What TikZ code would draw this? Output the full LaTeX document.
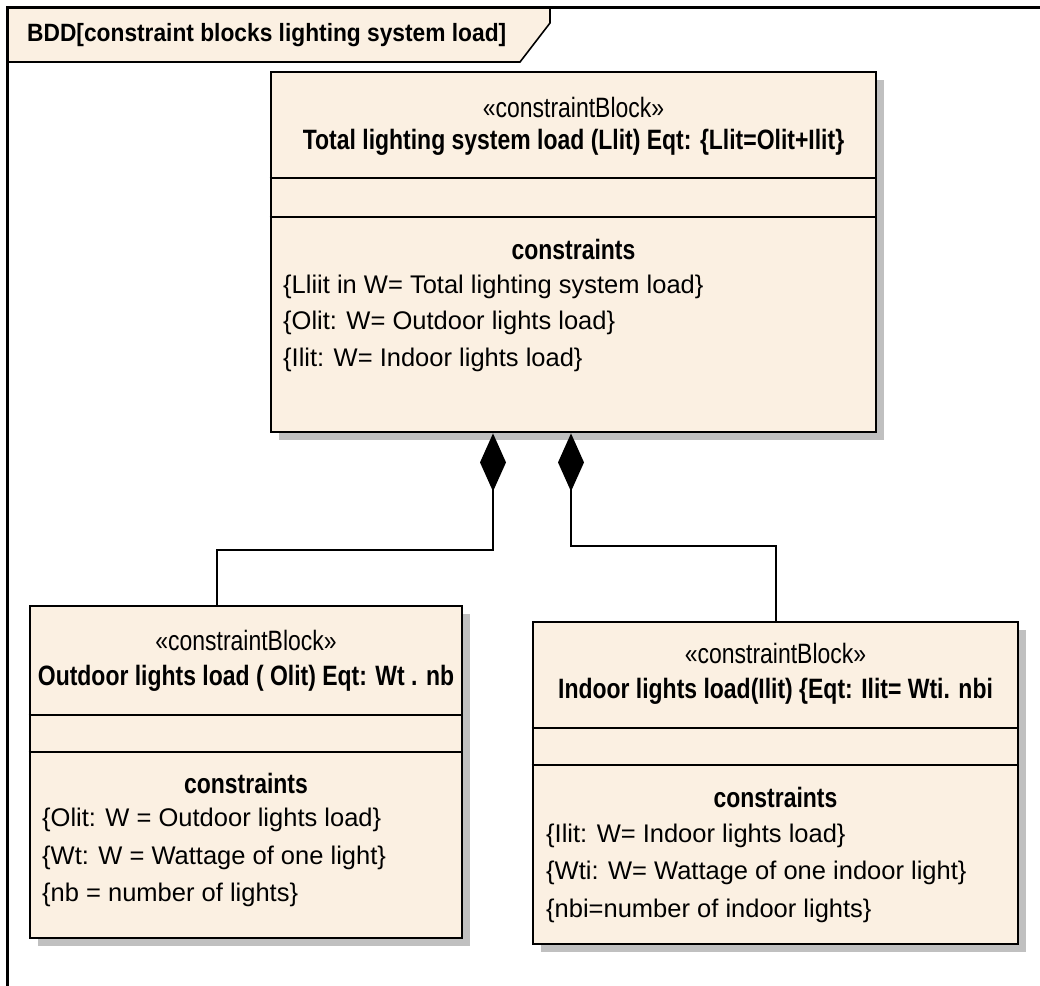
\documentclass[tikz,border=0pt]{standalone}
\usepackage{fontspec}
\setmainfont{Liberation Sans}
\newfontfamily\bdnarrow[FakeStretch=0.82]{Liberation Sans}
\newfontfamily\bdtitlefont[FakeStretch=0.91]{Liberation Sans}
\usetikzlibrary{arrows.meta, shadows, positioning}
\definecolor{bdfill}{RGB}{251,240,226}
\definecolor{bdshadow}{RGB}{192,192,192}
\tikzset{
  bd frame/.style={draw=black, line width=2.2pt},
  bd tab/.style={draw=black, fill=bdfill, line width=1.6pt},
  bd block/.style={draw=black, fill=bdfill, line width=2.8pt, inner sep=0pt,
    drop shadow={shadow xshift=8pt, shadow yshift=-8pt, fill=bdshadow, opacity=1}},
  bd div/.style={draw=black, line width=2.6pt},
  bd title/.style={font=\bdtitlefont\bfseries\fontsize{25}{27}\selectfont, inner sep=0pt, anchor=west},
  bd stereo/.style={font=\bdnarrow\fontsize{28}{30}\selectfont, inner sep=0pt},
  bd name/.style={font=\bdnarrow\bfseries\fontsize{28}{30}\selectfont, inner sep=0pt},
  bd item/.style={font=\fontsize{25.5}{28}\selectfont, inner sep=0pt, anchor=west},
  bd comp/.style={draw=black, line width=2.6pt, {Diamond[length=58pt, width=26pt]}-},
}

\begin{document}
\begin{tikzpicture}[x=1pt, y=-1pt]
 \useasboundingbox (0,0) rectangle (1040,985);
 % diagram frame and its tab
 \draw[bd tab] (7.5,7.5) -- (550,7.5) -- (550,23) -- (520,62) -- (7.5,62) -- cycle;
 \draw[bd frame] (7.5,1000) -- (7.5,7.5) -- (1050,7.5);
 \node[bd title] (title) at (27,35) {BDD[constraint blocks lighting system load]};

 % blocks
 \node[bd block, minimum width=605pt, minimum height=360pt] (total) at (573.5,252) {};
 \node[bd block, minimum width=432pt, minimum height=332pt] (outdoor) at (246,772) {};
 \node[bd block, minimum width=485pt, minimum height=322pt] (indoor) at (775.5,783) {};

 \foreach \b/\ya/\yb in {total/178/217, outdoor/715/752, indoor/728/765} {
   \draw[bd div] (\b.west |- 0,\ya) -- (\b.east |- 0,\ya);
   \draw[bd div] (\b.west |- 0,\yb) -- (\b.east |- 0,\yb);
 }

 % total lighting load
 \node[bd stereo] (totalst) at (total |- 0,107) {«constraintBlock»};
 \node[bd name] (totalnm) at (total |- 0,142) {Total lighting system load (Llit) Eqt: \{Llit=Olit+Ilit\}};
 \node[bd name] (totalhd) at (total |- 0,249) {constraints};
 \node[bd item] (totala) at (283,287) {\{Lliit in W= Total lighting system load\}};
 \node[bd item] (totalb) at (283,323) {\{Olit: W= Outdoor lights load\}};
 \node[bd item] (totalc) at (283,360) {\{Ilit: W= Indoor lights load\}};

 % outdoor lights
 \node[bd stereo] (outst) at (outdoor |- 0,640) {«constraintBlock»};
 \node[bd name] (outnm) at (outdoor |- 0,678) {Outdoor lights load ( Olit) Eqt: Wt . nb};
 \node[bd name] (outhd) at (outdoor |- 0,783) {constraints};
 \node[bd item] (outa) at (42,820) {\{Olit: W = Outdoor lights load\}};
 \node[bd item] (outb) at (42,858) {\{Wt: W = Wattage of one light\}};
 \node[bd item] (outc) at (42,895) {\{nb = number of lights\}};

 % indoor lights
 \node[bd stereo] (inst) at (indoor |- 0,653) {«constraintBlock»};
 \node[bd name] (innm) at (indoor |- 0,691) {Indoor lights load(Ilit) \{Eqt: Ilit= Wti. nbi};
 \node[bd name] (inhd) at (indoor |- 0,797) {constraints};
 \node[bd item] (ina) at (546,836) {\{Ilit: W= Indoor lights load\}};
 \node[bd item] (inb) at (546,873) {\{Wti: W= Wattage of one indoor light\}};
 \node[bd item] (inc) at (546,911) {\{nbi=number of indoor lights\}};

 % composition links
 \draw[bd comp] (total.south -| 493,0) -- (493,550) -| (outdoor.north -| 217,0);
 \draw[bd comp] (total.south -| 571,0) -- (571,546) -| (indoor.north -| 776,0);
\end{tikzpicture}
\end{document}
